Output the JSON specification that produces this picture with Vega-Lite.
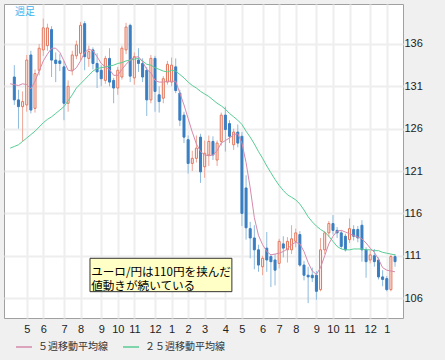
{
  "$schema": "https://vega.github.io/schema/vega-lite/v6.json",
  "width": 399,
  "height": 314,
  "autosize": "none",
  "padding": {"left": 4, "top": 4, "right": 42, "bottom": 42},
  "background": "#f0f0f0",
  "config": {
    "view": {"fill": "white", "stroke": "#a0a0a0"},
    "font": "Liberation Sans",
    "axisX": {"title": null, "format": "%-m", "labelFont": "Liberation Sans", "labelFontSize": 11, "labelColor": "#222", "ticks": false, "domain": false, "gridColor": "#eeeeee", "gridWidth": 2, "labelPadding": 5, "labelOverlap": false},
    "axisY": {"title": null, "labelFont": "Liberation Sans", "labelFontSize": 11, "labelColor": "#222", "ticks": false, "domain": false, "gridColor": "#eeeeee", "gridWidth": 2, "labelPadding": 1}
  },
  "datasets": {
    "w": [
      {"date": "2009-04-06", "ma5": 131.3, "ma25": 123.7},
      {"date": "2009-04-13", "open": 132.1, "high": 133.5, "low": 128.8, "close": 129.4, "ma5": 131.2, "ma25": 123.9},
      {"date": "2009-04-20", "open": 129.4, "high": 130.6, "low": 126.0, "close": 128.6, "ma5": 131.1, "ma25": 124.1},
      {"date": "2009-04-27", "open": 128.6, "high": 130.4, "low": 124.5, "close": 129.2, "ma5": 131.3, "ma25": 124.5},
      {"date": "2009-05-04", "open": 128.8, "high": 134.7, "low": 128.0, "close": 134.1, "ma5": 131.2, "ma25": 124.9},
      {"date": "2009-05-11", "open": 134.7, "high": 135.2, "low": 127.8, "close": 128.2, "ma5": 130.7, "ma25": 125.3},
      {"date": "2009-05-18", "open": 128.4, "high": 133.0, "low": 127.9, "close": 132.5, "ma5": 131.6, "ma25": 125.7},
      {"date": "2009-05-25", "open": 132.9, "high": 136.0, "low": 132.3, "close": 135.5, "ma5": 132.8, "ma25": 126.2},
      {"date": "2009-06-01", "open": 135.3, "high": 139.0, "low": 134.6, "close": 137.9, "ma5": 134.0, "ma25": 126.7},
      {"date": "2009-06-08", "open": 135.8, "high": 138.4, "low": 135.2, "close": 137.9, "ma5": 134.8, "ma25": 127.1},
      {"date": "2009-06-15", "open": 137.7, "high": 138.1, "low": 132.1, "close": 134.1, "ma5": 135.5, "ma25": 127.4},
      {"date": "2009-06-22", "open": 134.1, "high": 135.0, "low": 131.5, "close": 133.7, "ma5": 135.5, "ma25": 127.8},
      {"date": "2009-06-29", "open": 134.0, "high": 134.8, "low": 132.8, "close": 133.7, "ma5": 135.0, "ma25": 128.2},
      {"date": "2009-07-06", "open": 133.3, "high": 134.0, "low": 127.0, "close": 129.0, "ma5": 134.0, "ma25": 128.6},
      {"date": "2009-07-13", "open": 129.0, "high": 131.7, "low": 128.0, "close": 131.0, "ma5": 132.9, "ma25": 129.3},
      {"date": "2009-07-20", "open": 132.9, "high": 135.2, "low": 132.3, "close": 134.7, "ma5": 132.8, "ma25": 130.0},
      {"date": "2009-07-27", "open": 134.6, "high": 136.4, "low": 134.2, "close": 135.9, "ma5": 133.2, "ma25": 130.8},
      {"date": "2009-08-03", "open": 134.9, "high": 138.6, "low": 134.1, "close": 138.2, "ma5": 134.0, "ma25": 131.3},
      {"date": "2009-08-10", "open": 138.4, "high": 138.7, "low": 132.9, "close": 134.5, "ma5": 135.0, "ma25": 131.8},
      {"date": "2009-08-17", "open": 134.3, "high": 135.8, "low": 133.3, "close": 135.1, "ma5": 135.4, "ma25": 132.3},
      {"date": "2009-08-24", "open": 135.3, "high": 135.6, "low": 133.0, "close": 133.7, "ma5": 135.2, "ma25": 132.8},
      {"date": "2009-08-31", "open": 133.7, "high": 134.9, "low": 130.8, "close": 132.7, "ma5": 134.5, "ma25": 133.1},
      {"date": "2009-09-07", "open": 132.9, "high": 133.5, "low": 131.0, "close": 131.9, "ma5": 133.7, "ma25": 133.2},
      {"date": "2009-09-14", "open": 131.7, "high": 134.6, "low": 131.3, "close": 134.3, "ma5": 133.3, "ma25": 133.3},
      {"date": "2009-09-21", "open": 134.3, "high": 135.5, "low": 131.0, "close": 131.5, "ma5": 133.0, "ma25": 133.4},
      {"date": "2009-09-28", "open": 131.7, "high": 132.0, "low": 129.0, "close": 130.8, "ma5": 132.3, "ma25": 133.5},
      {"date": "2009-10-05", "open": 130.8, "high": 133.3, "low": 130.0, "close": 132.9, "ma5": 132.3, "ma25": 133.7},
      {"date": "2009-10-12", "open": 132.1, "high": 135.8, "low": 131.8, "close": 135.5, "ma5": 133.0, "ma25": 133.8},
      {"date": "2009-10-19", "open": 135.3, "high": 138.5, "low": 134.8, "close": 138.0, "ma5": 133.6, "ma25": 134.0},
      {"date": "2009-10-26", "open": 138.2, "high": 138.4, "low": 131.5, "close": 132.2, "ma5": 134.1, "ma25": 134.1},
      {"date": "2009-11-02", "open": 132.0, "high": 135.0, "low": 131.2, "close": 134.5, "ma5": 134.4, "ma25": 134.2},
      {"date": "2009-11-09", "open": 134.1, "high": 135.5, "low": 132.7, "close": 133.7, "ma5": 134.5, "ma25": 134.3},
      {"date": "2009-11-16", "open": 133.7, "high": 134.3, "low": 131.5, "close": 132.1, "ma5": 133.9, "ma25": 134.0},
      {"date": "2009-11-23", "open": 132.9, "high": 133.3, "low": 127.5, "close": 129.4, "ma5": 133.0, "ma25": 133.6},
      {"date": "2009-11-30", "open": 129.4, "high": 134.7, "low": 129.0, "close": 134.3, "ma5": 132.6, "ma25": 133.5},
      {"date": "2009-12-07", "open": 134.3, "high": 134.6, "low": 128.0, "close": 130.4, "ma5": 131.7, "ma25": 133.2},
      {"date": "2009-12-14", "open": 130.0, "high": 131.0, "low": 127.9, "close": 129.2, "ma5": 131.5, "ma25": 133.0},
      {"date": "2009-12-21", "open": 129.6, "high": 132.2, "low": 129.0, "close": 131.9, "ma5": 131.5, "ma25": 132.8},
      {"date": "2009-12-28", "open": 131.5, "high": 134.0, "low": 131.2, "close": 133.6, "ma5": 131.6, "ma25": 132.7},
      {"date": "2010-01-04", "open": 131.5, "high": 134.4, "low": 131.0, "close": 133.5, "ma5": 131.6, "ma25": 132.9},
      {"date": "2010-01-11", "open": 133.3, "high": 134.3, "low": 130.2, "close": 130.5, "ma5": 131.6, "ma25": 132.8},
      {"date": "2010-01-18", "open": 130.2, "high": 130.6, "low": 126.3, "close": 127.0, "ma5": 130.2, "ma25": 132.4},
      {"date": "2010-01-25", "open": 127.6, "high": 128.0, "low": 124.3, "close": 125.0, "ma5": 128.8, "ma25": 132.0},
      {"date": "2010-02-01", "open": 124.7, "high": 125.2, "low": 120.7, "close": 121.9, "ma5": 127.2, "ma25": 131.5},
      {"date": "2010-02-08", "open": 121.9, "high": 123.4, "low": 121.0, "close": 122.5, "ma5": 125.6, "ma25": 131.1},
      {"date": "2010-02-15", "open": 122.5, "high": 125.2, "low": 122.0, "close": 123.7, "ma5": 124.2, "ma25": 130.8},
      {"date": "2010-02-22", "open": 125.0, "high": 125.4, "low": 119.6, "close": 120.9, "ma5": 123.3, "ma25": 130.4},
      {"date": "2010-03-01", "open": 121.5, "high": 124.6, "low": 120.2, "close": 123.1, "ma5": 122.9, "ma25": 130.1},
      {"date": "2010-03-08", "open": 122.9, "high": 125.2, "low": 121.6, "close": 124.5, "ma5": 122.8, "ma25": 129.8},
      {"date": "2010-03-15", "open": 124.5, "high": 125.1, "low": 122.3, "close": 122.9, "ma5": 122.9, "ma25": 129.4},
      {"date": "2010-03-22", "open": 122.3, "high": 124.6, "low": 121.6, "close": 124.3, "ma5": 123.4, "ma25": 129.0},
      {"date": "2010-03-29", "open": 124.5, "high": 127.9, "low": 124.0, "close": 127.6, "ma5": 124.3, "ma25": 128.7},
      {"date": "2010-04-05", "open": 127.6, "high": 128.6, "low": 123.3, "close": 125.9, "ma5": 124.6, "ma25": 128.3},
      {"date": "2010-04-12", "open": 126.6, "high": 127.0, "low": 124.3, "close": 125.1, "ma5": 124.9, "ma25": 127.8},
      {"date": "2010-04-19", "open": 124.1, "high": 126.0, "low": 123.5, "close": 125.6, "ma5": 125.3, "ma25": 127.4},
      {"date": "2010-04-26", "open": 125.6, "high": 126.5, "low": 123.8, "close": 124.3, "ma5": 125.4, "ma25": 127.0},
      {"date": "2010-05-03", "open": 125.1, "high": 125.6, "low": 114.5, "close": 116.0, "ma5": 124.3, "ma25": 126.5},
      {"date": "2010-05-10", "open": 119.0, "high": 120.5, "low": 112.9, "close": 114.3, "ma5": 122.0, "ma25": 125.7},
      {"date": "2010-05-17", "open": 114.2, "high": 115.0, "low": 110.7, "close": 113.1, "ma5": 119.0, "ma25": 125.0},
      {"date": "2010-05-24", "open": 113.1, "high": 114.6, "low": 109.4, "close": 111.7, "ma5": 115.5, "ma25": 124.2},
      {"date": "2010-05-31", "open": 111.7, "high": 112.3, "low": 109.1, "close": 109.9, "ma5": 113.4, "ma25": 123.3},
      {"date": "2010-06-07", "open": 109.7, "high": 111.0, "low": 108.7, "close": 110.7, "ma5": 112.3, "ma25": 122.5},
      {"date": "2010-06-14", "open": 111.9, "high": 113.8, "low": 109.1, "close": 110.5, "ma5": 111.5, "ma25": 121.6},
      {"date": "2010-06-21", "open": 110.9, "high": 111.2, "low": 107.3, "close": 110.3, "ma5": 111.1, "ma25": 120.8},
      {"date": "2010-06-28", "open": 110.5, "high": 111.2, "low": 107.5, "close": 109.3, "ma5": 111.2, "ma25": 120.0},
      {"date": "2010-07-05", "open": 110.1, "high": 113.0, "low": 109.5, "close": 112.7, "ma5": 111.3, "ma25": 119.3},
      {"date": "2010-07-12", "open": 112.4, "high": 113.3, "low": 110.8, "close": 111.9, "ma5": 111.5, "ma25": 118.7},
      {"date": "2010-07-19", "open": 111.7, "high": 113.2, "low": 110.2, "close": 112.7, "ma5": 111.8, "ma25": 118.2},
      {"date": "2010-07-26", "open": 111.7, "high": 114.6, "low": 111.2, "close": 113.0, "ma5": 112.3, "ma25": 117.9},
      {"date": "2010-08-02", "open": 112.7, "high": 114.2, "low": 112.0, "close": 113.7, "ma5": 112.6, "ma25": 117.6},
      {"date": "2010-08-09", "open": 113.5, "high": 113.9, "low": 109.7, "close": 109.9, "ma5": 112.4, "ma25": 117.1},
      {"date": "2010-08-16", "open": 109.9, "high": 110.4, "low": 108.1, "close": 108.7, "ma5": 111.5, "ma25": 116.4},
      {"date": "2010-08-23", "open": 108.7, "high": 109.7, "low": 105.4, "close": 108.5, "ma5": 110.2, "ma25": 115.6},
      {"date": "2010-08-30", "open": 108.7, "high": 109.6, "low": 107.9, "close": 108.4, "ma5": 109.2, "ma25": 115.0},
      {"date": "2010-09-06", "open": 108.7, "high": 109.2, "low": 105.8, "close": 106.8, "ma5": 108.8, "ma25": 114.5},
      {"date": "2010-09-13", "open": 107.0, "high": 113.1, "low": 106.8, "close": 111.7, "ma5": 109.6, "ma25": 114.1},
      {"date": "2010-09-20", "open": 111.7, "high": 113.9, "low": 111.2, "close": 113.7, "ma5": 111.0, "ma25": 113.8},
      {"date": "2010-09-27", "open": 113.7, "high": 115.1, "low": 113.2, "close": 114.8, "ma5": 112.4, "ma25": 113.3},
      {"date": "2010-10-04", "open": 114.8, "high": 115.8, "low": 113.5, "close": 114.0, "ma5": 113.3, "ma25": 112.7},
      {"date": "2010-10-11", "open": 114.0, "high": 114.4, "low": 113.1, "close": 113.7, "ma5": 113.9, "ma25": 112.1},
      {"date": "2010-10-18", "open": 113.7, "high": 114.0, "low": 111.8, "close": 112.1, "ma5": 114.0, "ma25": 111.8},
      {"date": "2010-10-25", "open": 113.3, "high": 113.6, "low": 111.5, "close": 111.7, "ma5": 113.8, "ma25": 111.7},
      {"date": "2010-11-01", "open": 112.9, "high": 115.4, "low": 112.5, "close": 114.2, "ma5": 113.6, "ma25": 111.7},
      {"date": "2010-11-08", "open": 114.1, "high": 114.6, "low": 112.8, "close": 113.3, "ma5": 113.4, "ma25": 111.8},
      {"date": "2010-11-15", "open": 114.1, "high": 114.5, "low": 112.6, "close": 113.1, "ma5": 113.2, "ma25": 111.8},
      {"date": "2010-11-22", "open": 114.6, "high": 115.2, "low": 110.3, "close": 111.7, "ma5": 113.0, "ma25": 111.8},
      {"date": "2010-11-29", "open": 111.7, "high": 112.0, "low": 108.4, "close": 110.3, "ma5": 112.5, "ma25": 111.7},
      {"date": "2010-12-06", "open": 110.5, "high": 111.6, "low": 110.1, "close": 111.1, "ma5": 111.9, "ma25": 111.7},
      {"date": "2010-12-13", "open": 111.0, "high": 111.8, "low": 109.7, "close": 110.3, "ma5": 111.4, "ma25": 111.6},
      {"date": "2010-12-20", "open": 110.5, "high": 110.8, "low": 108.2, "close": 108.5, "ma5": 110.6, "ma25": 111.6},
      {"date": "2010-12-27", "open": 108.5, "high": 109.3, "low": 107.4, "close": 108.2, "ma5": 109.6, "ma25": 111.4},
      {"date": "2011-01-03", "open": 108.3, "high": 108.6, "low": 106.8, "close": 107.0, "ma5": 109.3, "ma25": 111.3},
      {"date": "2011-01-10", "open": 107.0, "high": 111.1, "low": 106.8, "close": 110.9, "ma5": 109.2, "ma25": 111.2},
      {"date": "2011-01-17", "open": 110.9, "high": 111.2, "low": 109.7, "close": 110.3, "ma5": 109.1, "ma25": 111.1}
    ]
  },
  "layer": [
    {
      "data": {"name": "w"},
      "mark": {"type": "rule", "strokeWidth": 1},
      "encoding": {
        "x": {"field": "date", "type": "temporal",
          "scale": {"type": "utc", "domain": [{"year": 2009, "month": 4, "date": 4, "utc": true}, {"year": 2011, "month": 1, "date": 22, "utc": true}]},
          "axis": {"values": [1241395200000, 1243814400000, 1246838400000, 1249257600000, 1252281600000, 1254700800000, 1257120000000, 1260144000000, 1262563200000, 1264982400000, 1267401600000, 1270425600000, 1272844800000, 1275868800000, 1278288000000, 1280707200000, 1283731200000, 1286150400000, 1288569600000, 1291593600000, 1294012800000]}},
        "y": {"field": "low", "type": "quantitative", "scale": {"domain": [103.65, 140.72], "nice": false, "zero": false},
          "axis": {"orient": "right", "values": [106, 111, 116, 121, 126, 131, 136]}},
        "y2": {"field": "high"},
        "color": {"condition": {"test": "datum.close > datum.open", "value": "#eca696"}, "value": "#8dbade"}
      }
    },
    {
      "data": {"name": "w"},
      "mark": {"type": "bar", "size": 2, "strokeWidth": 1},
      "encoding": {
        "x": {"field": "date", "type": "temporal",
          "axis": {"values": [1241395200000, 1243814400000, 1246838400000, 1249257600000, 1252281600000, 1254700800000, 1257120000000, 1260144000000, 1262563200000, 1264982400000, 1267401600000, 1270425600000, 1272844800000, 1275868800000, 1278288000000, 1280707200000, 1283731200000, 1286150400000, 1288569600000, 1291593600000, 1294012800000]}},
        "y": {"field": "open", "type": "quantitative", "axis": {"orient": "right", "values": [106, 111, 116, 121, 126, 131, 136]}},
        "y2": {"field": "close"},
        "fill": {"condition": {"test": "datum.close > datum.open", "value": "#fff2ee"}, "value": "#3a7ec1"},
        "stroke": {"condition": {"test": "datum.close > datum.open", "value": "#e2765c"}, "value": "#3a7ec1"}
      }
    },
    {
      "data": {"name": "w"},
      "mark": {"type": "line", "strokeWidth": 1},
      "encoding": {
        "x": {"field": "date", "type": "temporal",
          "axis": {"values": [1241395200000, 1243814400000, 1246838400000, 1249257600000, 1252281600000, 1254700800000, 1257120000000, 1260144000000, 1262563200000, 1264982400000, 1267401600000, 1270425600000, 1272844800000, 1275868800000, 1278288000000, 1280707200000, 1283731200000, 1286150400000, 1288569600000, 1291593600000, 1294012800000]}},
        "y": {"field": "ma25", "type": "quantitative", "axis": {"orient": "right", "values": [106, 111, 116, 121, 126, 131, 136]}},
        "color": {"datum": "２５週移動平均線", "type": "nominal",
          "scale": {"domain": ["５週移動平均線", "２５週移動平均線"], "range": ["#d68aac", "#58cc94"]},
          "legend": {"title": null, "orient": "none", "legendX": 11, "legendY": 334, "direction": "horizontal", "symbolType": "stroke", "symbolSize": 256, "symbolStrokeWidth": 1.5, "labelFont": "Noto Sans CJK JP", "labelFontSize": 10, "labelColor": "#333", "labelOffset": 5, "columnPadding": 12, "padding": 0}}
      }
    },
    {
      "data": {"name": "w"},
      "mark": {"type": "line", "strokeWidth": 1},
      "encoding": {
        "x": {"field": "date", "type": "temporal",
          "axis": {"values": [1241395200000, 1243814400000, 1246838400000, 1249257600000, 1252281600000, 1254700800000, 1257120000000, 1260144000000, 1262563200000, 1264982400000, 1267401600000, 1270425600000, 1272844800000, 1275868800000, 1278288000000, 1280707200000, 1283731200000, 1286150400000, 1288569600000, 1291593600000, 1294012800000]}},
        "y": {"field": "ma5", "type": "quantitative", "axis": {"orient": "right", "values": [106, 111, 116, 121, 126, 131, 136]}},
        "color": {"datum": "５週移動平均線", "type": "nominal"}
      }
    },
    {
      "data": {"values": [{}]},
      "mark": {"type": "rect", "fill": "#ffffc6", "stroke": "#333333", "strokeWidth": 1},
      "encoding": {
        "x": {"datum": 1250640000000, "type": "temporal",
          "axis": {"values": [1241395200000, 1243814400000, 1246838400000, 1249257600000, 1252281600000, 1254700800000, 1257120000000, 1260144000000, 1262563200000, 1264982400000, 1267401600000, 1270425600000, 1272844800000, 1275868800000, 1278288000000, 1280707200000, 1283731200000, 1286150400000, 1288569600000, 1291593600000, 1294012800000]}},
        "x2": {"datum": 1271376000000},
        "y": {"datum": 110.7, "type": "quantitative", "axis": {"orient": "right", "values": [106, 111, 116, 121, 126, 131, 136]}},
        "y2": {"datum": 106.76}
      }
    },
    {
      "data": {"values": [{}]},
      "mark": {"type": "text", "text": ["ユーロ/円は110円を挟んだ", "値動きが続いている"], "align": "left", "baseline": "middle", "font": "Noto Sans CJK JP", "fontSize": 11.6, "lineHeight": 14.5, "color": "#000000"},
      "encoding": {
        "x": {"datum": 1250812800000, "type": "temporal",
          "axis": {"values": [1241395200000, 1243814400000, 1246838400000, 1249257600000, 1252281600000, 1254700800000, 1257120000000, 1260144000000, 1262563200000, 1264982400000, 1267401600000, 1270425600000, 1272844800000, 1275868800000, 1278288000000, 1280707200000, 1283731200000, 1286150400000, 1288569600000, 1291593600000, 1294012800000]}},
        "y": {"datum": 108.99, "type": "quantitative", "axis": {"orient": "right", "values": [106, 111, 116, 121, 126, 131, 136]}}
      }
    },
    {
      "data": {"values": [{}]},
      "mark": {"type": "text", "text": "週足", "align": "left", "baseline": "middle", "font": "Noto Sans CJK JP", "fontSize": 10, "color": "#3cb4ee"},
      "encoding": {
        "x": {"datum": 1239667200000, "type": "temporal",
          "axis": {"values": [1241395200000, 1243814400000, 1246838400000, 1249257600000, 1252281600000, 1254700800000, 1257120000000, 1260144000000, 1262563200000, 1264982400000, 1267401600000, 1270425600000, 1272844800000, 1275868800000, 1278288000000, 1280707200000, 1283731200000, 1286150400000, 1288569600000, 1291593600000, 1294012800000]}},
        "y": {"datum": 139.75, "type": "quantitative", "axis": {"orient": "right", "values": [106, 111, 116, 121, 126, 131, 136]}}
      }
    }
  ]
}
